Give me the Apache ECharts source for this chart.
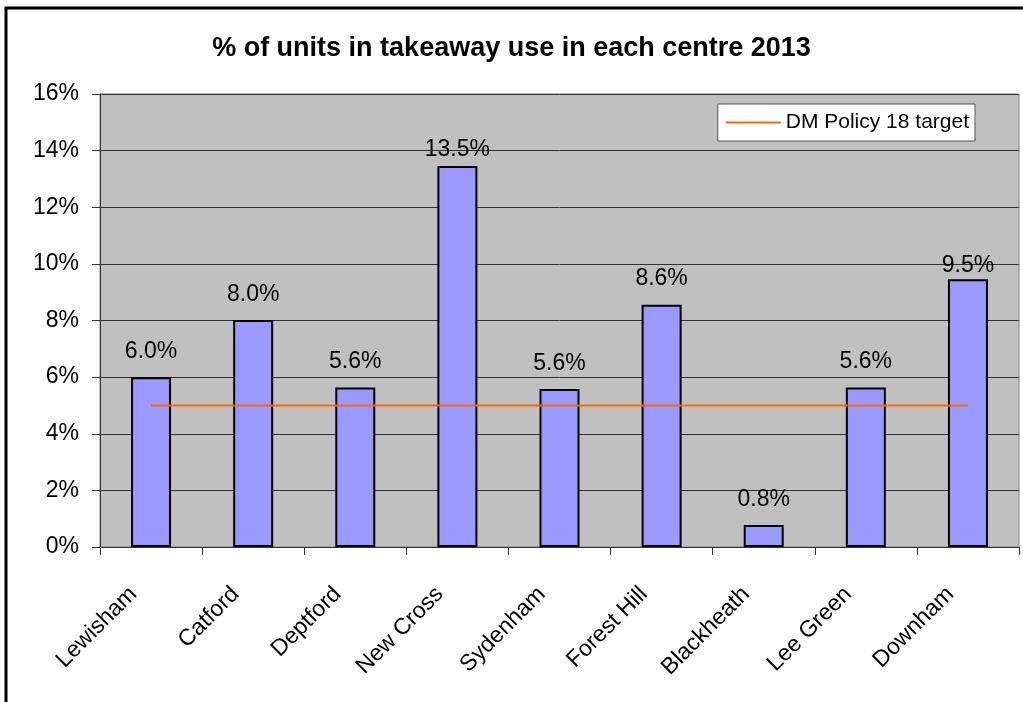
<!DOCTYPE html>
<html>
<head>
<meta charset="utf-8">
<script src="https://cdn.jsdelivr.net/npm/echarts@6/dist/echarts.min.js"></script>
<style>
html,body{margin:0;padding:0;background:#fff;}
#chart{width:1023px;height:702px;}
</style>
</head>
<body>
<div id="chart"></div>
<script>
var categories = ['Lewisham','Catford','Deptford','New Cross','Sydenham','Forest Hill','Blackheath','Lee Green','Downham'];
var takeawayPct = [6.0, 8.02, 5.63, 13.46, 5.58, 8.56, 0.78, 5.63, 9.46];
var targetPct = [5, 5, 5, 5, 5, 5, 5, 5, 5];
var yTicks = {min: 0, max: 16, interval: 2};
var titleText = '% of units in takeaway use in each centre 2013';
var legendName = 'DM Policy 18 target';

var FONT = '"Liberation Sans", Arial, sans-serif';
// the reference places two labels closer to their bars
var labelNudge = {3: 9, 8: 12};
var barData = takeawayPct.map(function(v, i){
  var item = {value: v};
  if (labelNudge[i]) item.label = {offset: [0, labelNudge[i]]};
  return item;
});

var chart = echarts.init(document.getElementById('chart'));
chart.setOption({
  animation: false,
  backgroundColor: '#ffffff',
  title: {
    text: titleText,
    left: 'center',
    top: 30,
    textStyle: {fontFamily: FONT, fontSize: 27, fontWeight: 'bold', color: '#000'}
  },
  graphic: [{
    type: 'rect',
    z: 100,
    shape: {x: 6, y: 8, width: 1200, height: 900},
    style: {fill: 'none', stroke: '#000', lineWidth: 3}
  }],
  legend: {
    data: [{name: legendName, icon: 'rect'}],
    right: 48,
    top: 104,
    backgroundColor: '#ffffff',
    borderColor: '#555',
    borderWidth: 1,
    borderRadius: 0,
    padding: [8, 6, 8, 8],
    itemWidth: 55,
    itemHeight: 2,
    itemGap: 5,
    textStyle: {fontFamily: FONT, fontSize: 21, color: '#000'}
  },
  grid: {
    left: 100, right: 4, top: 94, bottom: 155,
    show: true,
    backgroundColor: '#c0c0c0',
    borderColor: '#808080',
    borderWidth: 1
  },
  xAxis: {
    type: 'category',
    data: categories,
    boundaryGap: true,
    axisLine: {lineStyle: {color: '#333', width: 1}},
    axisTick: {show: true, length: 8, alignWithLabel: false, lineStyle: {color: '#333'}},
    axisLabel: {rotate: 45, margin: 26, padding: [0, 25, 0, 0], fontFamily: FONT, fontSize: 23, color: '#000', interval: 0}
  },
  yAxis: {
    type: 'value',
    min: yTicks.min, max: yTicks.max, interval: yTicks.interval,
    axisLine: {show: true, lineStyle: {color: '#333', width: 1}},
    axisTick: {show: true, length: 8, lineStyle: {color: '#333'}},
    axisLabel: {formatter: function(v){return v + '%';}, margin: 21, fontFamily: FONT, fontSize: 23, color: '#000'},
    splitLine: {show: true, lineStyle: {color: '#333', width: 1}}
  },
  series: [{
    type: 'bar',
    name: 'Takeaway',
    data: barData,
    barWidth: 40,
    itemStyle: {color: '#9999ff', borderColor: '#000', borderWidth: 2},
    label: {
      show: true,
      position: 'top',
      distance: 14,
      formatter: function(p){return p.value.toFixed(1) + '%';},
      fontFamily: FONT, fontSize: 23, color: '#000'
    },
    z: 2
  }, {
    type: 'line',
    name: legendName,
    data: targetPct,
    symbol: 'none',
    lineStyle: {color: '#ff6600', width: 2},
    itemStyle: {color: '#ff6600'},
    z: 3
  }]
});
</script>
</body>
</html>
